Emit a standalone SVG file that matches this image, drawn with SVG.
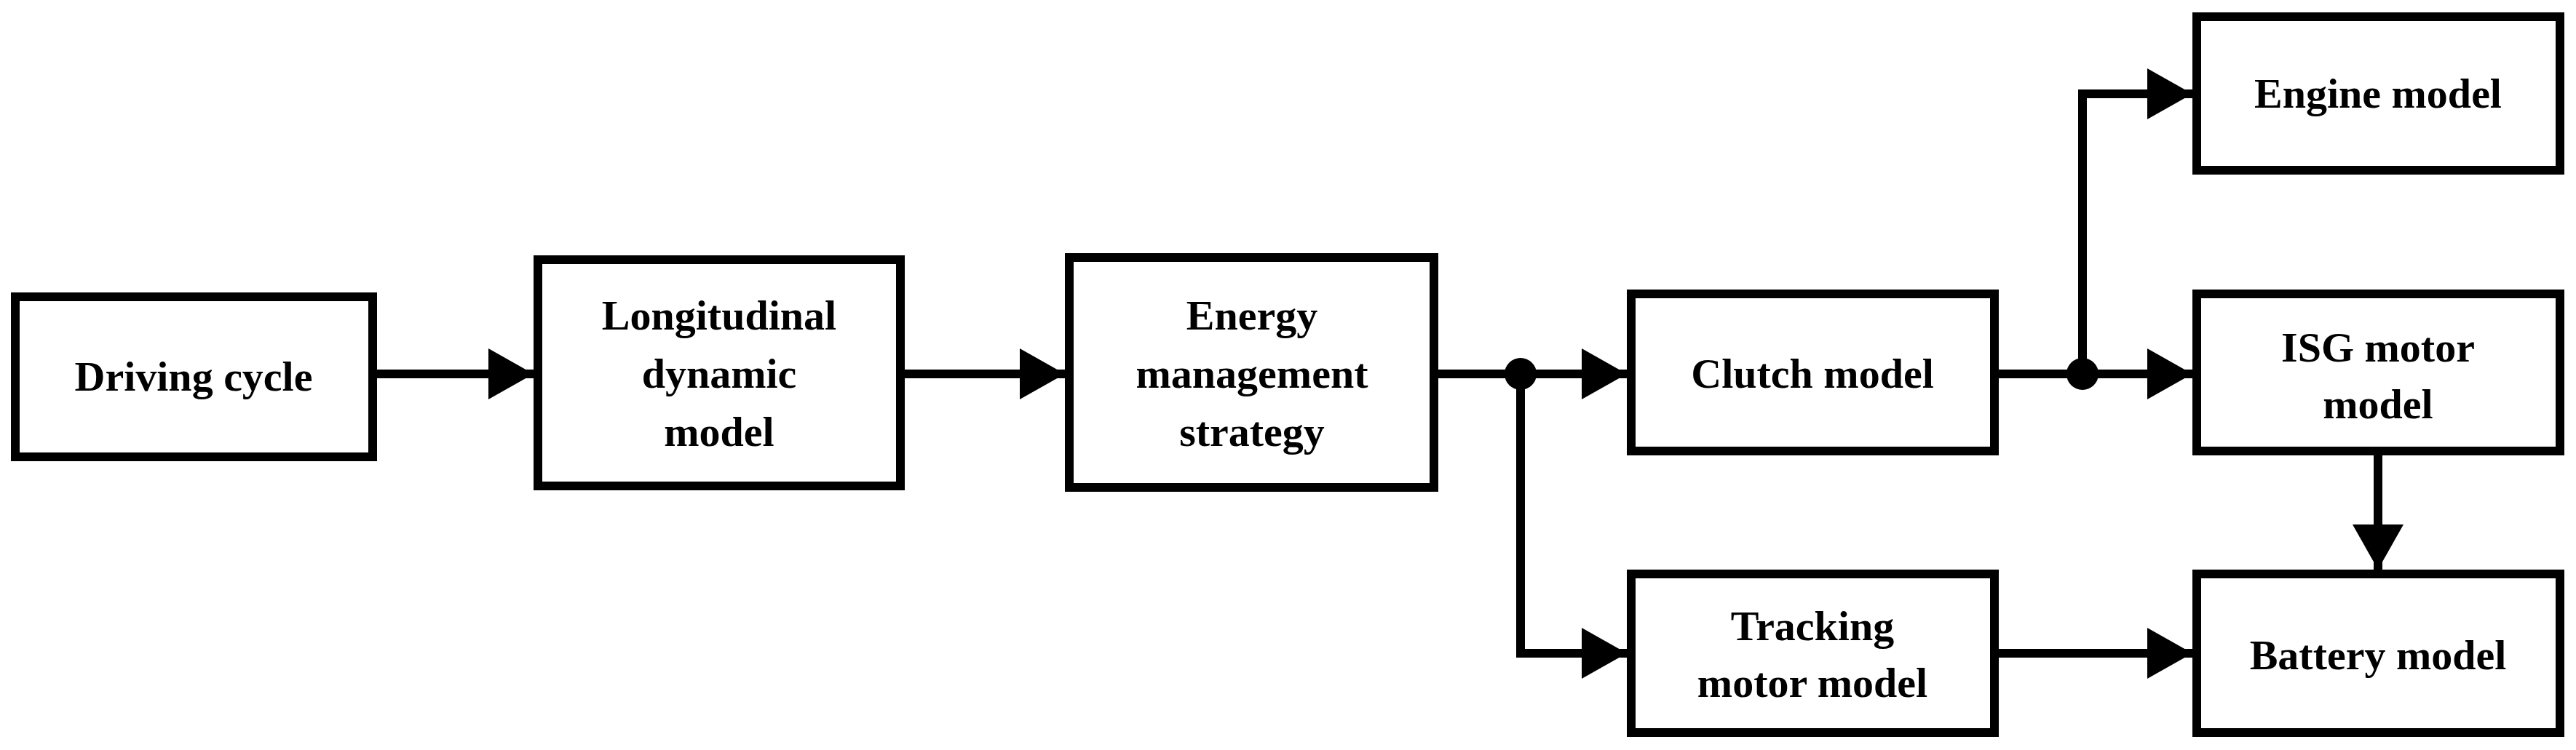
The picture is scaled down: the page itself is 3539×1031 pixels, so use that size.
<svg xmlns="http://www.w3.org/2000/svg" width="3539" height="1031" viewBox="0 0 3539 1031">
<style>
.b{fill:#fff;stroke:#000;stroke-width:12}
.t{font-family:"Liberation Serif",serif;font-weight:bold;font-size:58px;text-anchor:middle;fill:#000}
.c{fill:none;stroke:#000;stroke-width:12}
</style>
<defs><marker id="a" markerUnits="userSpaceOnUse" markerWidth="64" markerHeight="70" refX="62" refY="35" orient="auto"><path d="M0,0L62,35L0,70Z"/></marker></defs>
<rect width="3539" height="1031" fill="#fff"/>
<g id="n1"><rect class="b" x="21" y="408" width="491" height="220"/><text class="t" x="266" y="537">Driving cycle</text></g>
<g id="n2"><rect class="b" x="739" y="357" width="498" height="311"/><text class="t" x="988" y="453">Longitudinal</text><text class="t" x="988" y="533">dynamic</text><text class="t" x="988" y="613">model</text></g>
<g id="n3"><rect class="b" x="1469" y="354" width="501" height="316"/><text class="t" x="1720" y="453">Energy</text><text class="t" x="1720" y="533">management</text><text class="t" x="1720" y="613">strategy</text></g>
<g id="n4"><rect class="b" x="2241" y="404" width="499" height="216"/><text class="t" x="2490" y="533">Clutch model</text></g>
<g id="n5"><rect class="b" x="2241" y="789" width="499" height="218"/><text class="t" x="2490" y="880">Tracking</text><text class="t" x="2490" y="958">motor model</text></g>
<g id="n6"><rect class="b" x="3018" y="23" width="499" height="211"/><text class="t" x="3267" y="148">Engine model</text></g>
<g id="n7"><rect class="b" x="3018" y="404" width="499" height="216"/><text class="t" x="3267" y="497">ISG motor</text><text class="t" x="3267" y="575">model</text></g>
<g id="n8"><rect class="b" x="3018" y="789" width="499" height="218"/><text class="t" x="3267" y="920">Battery model</text></g>
<g id="edges">
<path class="c" d="M512,514H733" marker-end="url(#a)"/>
<path class="c" d="M1237,514H1463" marker-end="url(#a)"/>
<path class="c" d="M1970,514H2235" marker-end="url(#a)"/>
<path class="c" d="M2089,514V898H2235" marker-end="url(#a)"/>
<path class="c" d="M2740,514H3012" marker-end="url(#a)"/>
<path class="c" d="M2861,514V129H3012" marker-end="url(#a)"/>
<path class="c" d="M2740,898H3012" marker-end="url(#a)"/>
<path class="c" d="M3267,620V783" marker-end="url(#a)"/>
<circle cx="2089" cy="514" r="22"/>
<circle cx="2861" cy="514" r="22"/>
</g>
</svg>
